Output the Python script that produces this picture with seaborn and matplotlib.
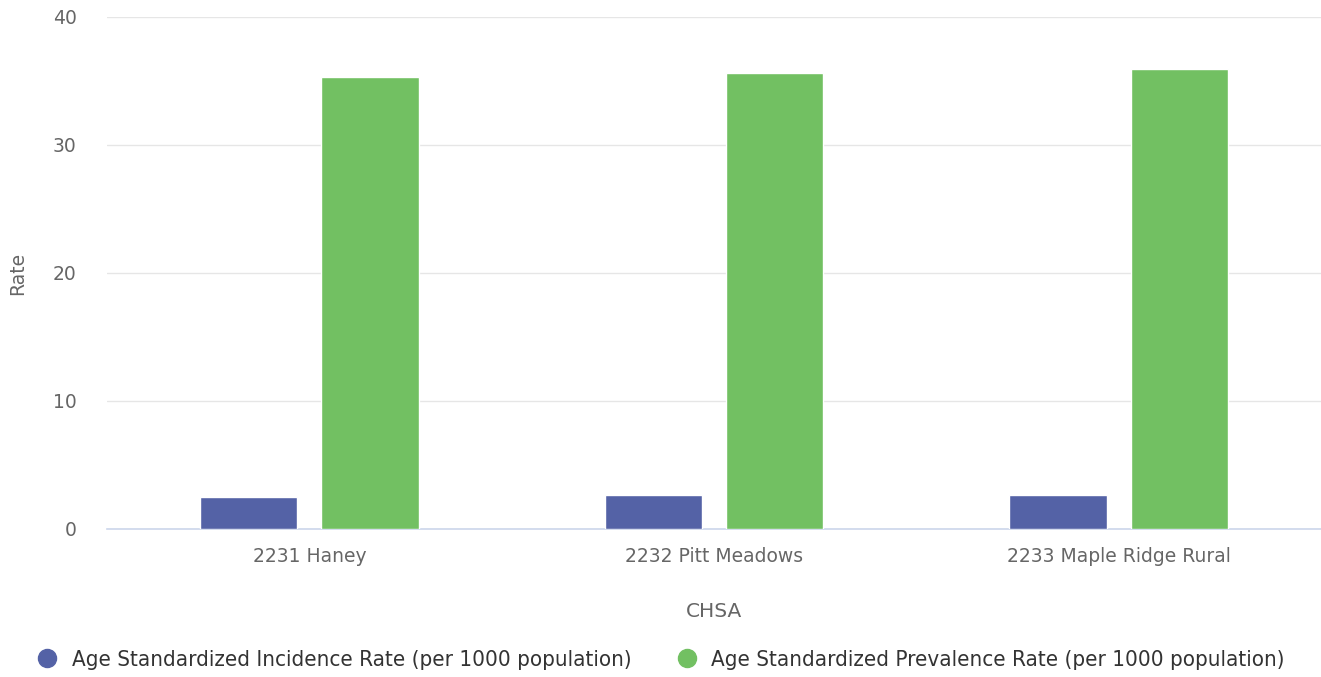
import pandas as pd
import matplotlib.pyplot as plt
import seaborn as sns
from matplotlib.lines import Line2D

# 数据
chsa = ['2231 Haney', '2232 Pitt Meadows', '2233 Maple Ridge Rural']
incidence = [2.5, 2.65, 2.65]
prevalence = [35.3, 35.6, 35.9]
series = ['Age Standardized Incidence Rate (per 1000 population)',
          'Age Standardized Prevalence Rate (per 1000 population)']
colors = ['#5462a6', '#72c062']

df = pd.DataFrame({
    'CHSA': chsa * 2,
    'Rate': incidence + prevalence,
    'Series': [series[0]] * 3 + [series[1]] * 3,
})

sns.set_style('white')
plt.rcParams['font.family'] = ['DejaVu Sans']

fig = plt.figure(figsize=(13.21, 6.77), dpi=100)
ax = fig.add_axes([107 / 1321, 1 - 529 / 677, 1 - 107 / 1321, (529 - 17) / 677])

sns.barplot(data=df, x='CHSA', y='Rate', hue='Series', hue_order=series,
            palette=colors, width=0.6, gap=0.2, saturation=1, ax=ax,
            legend=False, zorder=3)

ax.set_ylim(0, 40)
ax.set_xlim(-0.5, 2.5)
ax.set_yticks([0, 10, 20, 30, 40])
ax.grid(axis='y', color='#e6e6e6', linewidth=1, zorder=0)
ax.set_axisbelow(True)
for s in ['top', 'right', 'left']:
    ax.spines[s].set_visible(False)
ax.spines['bottom'].set_color('#ccd6eb')
ax.spines['bottom'].set_linewidth(1.2)
ax.tick_params(axis='both', length=0, colors='#666666', labelsize=13.5)
ax.tick_params(axis='x', pad=13)
ax.tick_params(axis='y', pad=22)

ax.set_xlabel('CHSA', fontsize=14.5, color='#666666', labelpad=26)
ax.set_ylabel('Rate', fontsize=13.5, color='#666666', labelpad=18)

handles = [Line2D([0], [0], marker='o', linestyle='', markersize=13,
                  markerfacecolor=c, markeredgecolor=c) for c in colors]
fig.legend(handles, series, loc='center', bbox_to_anchor=(0.5, 1 - 660 / 677),
           ncol=2, frameon=False, handlelength=1, handletextpad=0.6,
           columnspacing=2.0,
           prop={'family': 'DejaVu Sans', 'stretch': 'condensed', 'size': 16},
           labelcolor='#333333')

plt.savefig('out.png', dpi=100)
